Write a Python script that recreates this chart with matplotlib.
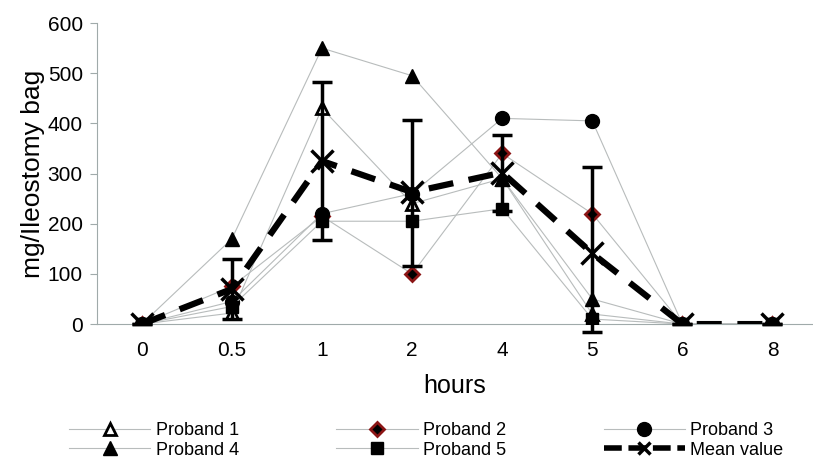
import matplotlib.pyplot as plt
from matplotlib.lines import Line2D

plt.rcParams['font.family'] = ['Liberation Sans', 'DejaVu Sans']

hours = ["0", "0.5", "1", "2", "4", "5", "6", "8"]
proband1 = [0, 22, 430, 240, 290, 20, 0, 0]
proband2 = [0, 75, 215, 100, 340, 220, 0, 0]
proband3 = [0, 45, 220, 260, 410, 405, 0, 0]
proband4 = [0, 170, 550, 495, 290, 50, 0, 0]
proband5 = [0, 35, 205, 205, 230, 10, 0, 0]
mean = [0, 70, 325, 263, 302, 141, 0, 0]
err_lo = [0, 60, 158, 148, 76, 157, 0, 0]
err_hi = [0, 60, 158, 143, 74, 172, 0, 0]

x = list(range(len(hours)))

fig = plt.figure(figsize=(8.13, 4.61), dpi=100)
ax = fig.add_axes([0.119, 0.297, 0.881, 0.653])

grey = "#b8bcbc"
ax.plot(x, proband1, color=grey, lw=0.8, marker="^", ms=8, mfc="white",
        mec="black", mew=2, label="Proband 1", zorder=3)
ax.plot(x, proband2, color=grey, lw=0.8, marker="D", ms=7, mfc="black",
        mec="#8b1414", mew=2, label="Proband 2", zorder=3)
ax.plot(x, proband3, color=grey, lw=0.8, marker="o", ms=10, mfc="black",
        mec="black", label="Proband 3", zorder=3)
ax.plot(x, proband4, color=grey, lw=0.8, marker="^", ms=10, mfc="black",
        mec="black", label="Proband 4", zorder=3)
ax.plot(x, proband5, color=grey, lw=0.8, marker="s", ms=9, mfc="black",
        mec="black", label="Proband 5", zorder=3)

ax.errorbar(x, mean, yerr=[err_lo, err_hi], fmt="none", ecolor="black",
            elinewidth=2.5, capsize=7, capthick=2.5, zorder=4, clip_on=False)
ax.plot(x, mean, color="black", lw=4.5, ls=(0, (4, 2.5)), marker="x", ms=16,
        mew=2.5, label="Mean value", zorder=5)

ax.set_xlim(-0.5, 7.45)
ax.set_ylim(0, 600)
ax.set_yticks(range(0, 601, 100))
ax.set_xticks(x)
ax.set_xticklabels(hours)
ax.tick_params(axis="x", length=0, pad=12, labelsize=15)
ax.tick_params(axis="y", length=5, color="#a0aaaa", labelsize=15, pad=5)
for s in ["top", "right"]:
    ax.spines[s].set_visible(False)
for s in ["left", "bottom"]:
    ax.spines[s].set_color("#a0aaaa")
ax.set_xlabel("hours", fontsize=18, labelpad=10)
ax.set_ylabel("mg/Ileostomy bag", fontsize=19, labelpad=2)

handles, labels = ax.get_legend_handles_labels()
mean_handle = Line2D([], [], color="black", lw=4, ls=(0, (3.2, 1.2)),
                     marker="x", ms=9, mew=2.5)
handles[-1] = mean_handle
order = [0, 3, 1, 4, 2, 5]
fig.legend([handles[i] for i in order], [labels[i] for i in order],
           loc="lower left", bbox_to_anchor=(0.065, -0.03), ncol=3,
           frameon=False, fontsize=13, handlelength=4.5, handletextpad=0.3,
           columnspacing=5.4, labelspacing=0.15)

fig.savefig("out.png", dpi=100)
